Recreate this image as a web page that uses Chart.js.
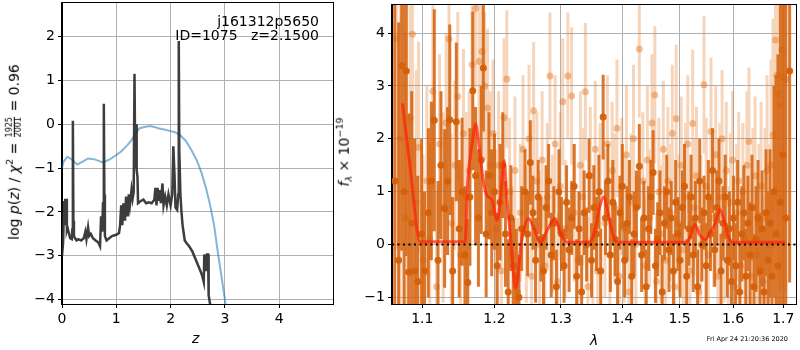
<!DOCTYPE html>
<html>
<head>
<meta charset="utf-8">
<script src="https://cdn.jsdelivr.net/npm/chart.js@4.4.1/dist/chart.umd.min.js"></script>
<style>
  body { margin: 0; background: #fff; font-family: "DejaVu Sans", sans-serif; }
  #wrap { position: relative; width: 800px; height: 350px; overflow: hidden; }
  canvas { position: absolute; top: 0; }
  .txt { position: absolute; white-space: nowrap; color: #000; font-size: 14px; line-height: 1; }
  .rot { transform: translate(-50%, -50%) rotate(-90deg); }
  .frac { display: inline-block; vertical-align: -2px; text-align: center; font-size: 8px; line-height: 1.05; margin: 0 1px; }
  .frac span { display: block; }
  .frac span.num { border-bottom: 1px solid #000; }
  sup { font-size: 9.5px; vertical-align: 6px; }
  sub { font-size: 9.5px; vertical-align: -3px; }
</style>
</head>
<body>
<div id="wrap">
  <canvas id="pz" width="340" height="350" style="left:0"></canvas>
  <canvas id="spec" width="460" height="350" style="left:340px"></canvas>

  <div class="txt rot" style="left:14px; top:152px;">log <i>p</i>(<i>z</i>) / <i>χ</i><sup>2</sup> = <span class="frac"><span class="num">1925</span><span>2001</span></span> = 0.96</div>
  <div class="txt" style="left:192px; top:331px; font-style:italic;">z</div>
  <div class="txt" style="right:481px; top:14px; text-align:right; line-height:14px;">j161312p5650<br>ID=1075&nbsp;&nbsp;&nbsp;z=2.1500</div>

  <div class="txt rot" style="left:344px; top:152px;"><i>f</i><sub><i>λ</i></sub> × 10<sup>−19</sup></div>
  <div class="txt" style="left:590px; top:333px; font-style:italic;">λ</div>
  <div class="txt" style="right:12px; top:336px; font-size:6.5px;">Fri Apr 24 21:20:36 2020</div>
</div>
<script>
// ---- p(z) panel data ----
const zTicks = [0, 1, 2, 3, 4];
const logpTicks = [-4, -3, -2, -1, 0, 1, 2];

// fit log p(z)
const zFit = [0.00, 0.02, 0.04, 0.05, 0.06, 0.07, 0.08, 0.09, 0.10, 0.12, 0.15, 0.18, 0.19, 0.20, 0.21, 0.22,
  0.24, 0.27, 0.30, 0.35, 0.40, 0.43, 0.45, 0.48, 0.50, 0.53, 0.57, 0.62, 0.67, 0.70, 0.72, 0.74, 0.755,
  0.77, 0.78, 0.79, 0.82, 0.87, 0.92, 1.00, 1.05, 1.07, 1.09, 1.11, 1.13, 1.16, 1.18, 1.21, 1.23, 1.25,
  1.28, 1.30, 1.32, 1.335, 1.345, 1.355, 1.365, 1.375, 1.39, 1.40, 1.45, 1.50, 1.55, 1.60, 1.65, 1.70,
  1.72, 1.74, 1.76, 1.78, 1.80, 1.82, 1.85, 1.87, 1.90, 1.93, 1.96, 2.00, 2.03, 2.05, 2.07, 2.09, 2.12,
  2.14, 2.15, 2.16, 2.18, 2.20, 2.22, 2.26, 2.30, 2.35, 2.40, 2.45, 2.50, 2.55, 2.58, 2.61, 2.62, 2.65,
  2.67, 2.69, 2.70, 2.72, 2.75];
const logpFit = [-3.0, -2.7, -1.75, -2.3, -1.7, -2.2, -1.7, -2.4, -2.35, -2.45, -2.6, -2.62, -2.4, 0.08, -2.2, -2.55,
  -2.6, -2.65, -2.62, -2.65, -2.6, -2.45, -2.62, -2.35, -2.55, -2.5, -2.6, -2.65, -2.7, -2.78, -2.1, -2.45, -1.8,
  0.47, -1.6, -2.55, -2.65, -2.6, -2.55, -2.52, -2.48, -2.3, -1.85, -2.3, -1.8, -2.2, -1.65, -2.1, -1.6, -1.85,
  -1.5, -1.7, -1.55, 1.15, -0.3, -1.0, 0.0, -1.05, -1.2, -1.8, -1.75, -1.72, -1.8, -1.78, -1.8, -1.72,
  -1.45, -1.85, -1.45, -1.75, -1.5, -1.8, -1.35, -1.85, -1.65, -1.85, -1.6, -1.85, -1.6, -0.5, -1.1, -1.9, -1.95,
  -1.6, 1.9, -0.6, -1.6, -2.0, -2.3, -2.65, -2.72, -2.8, -2.9, -3.05, -3.2, -3.35, -3.45, -3.6, -2.97, -3.35,
  -2.97, -2.97, -3.9, -4.05, -4.3];

// prior
const zPrior = [0, 0.03, 0.1, 0.2, 0.28, 0.38, 0.48, 0.6, 0.75, 0.88, 1.0, 1.09, 1.2, 1.28, 1.36, 1.43, 1.52,
  1.62, 1.70, 1.77, 1.88, 1.98, 2.08, 2.17, 2.28, 2.38, 2.48, 2.57, 2.65, 2.72, 2.80, 2.87, 2.94, 3.0, 3.05];
const logPrior = [-1.0, -0.85, -0.74, -0.82, -0.92, -0.85, -0.78, -0.8, -0.87, -0.8, -0.70, -0.62, -0.48, -0.36,
  -0.2, -0.09, -0.06, -0.04, -0.06, -0.09, -0.12, -0.15, -0.18, -0.24, -0.38, -0.58, -0.82, -1.11, -1.45, -1.80,
  -2.3, -2.93, -3.5, -4.0, -4.5];

// ---- spectrum panel data ----
const lamTicks = [1.1, 1.2, 1.3, 1.4, 1.5, 1.6, 1.7];
const fluxTicks = [-1, 0, 1, 2, 3, 4];

const darkLam = [1.064, 1.069, 1.073, 1.076, 1.079, 1.082, 1.086, 1.090, 1.094, 1.099, 1.103, 1.108, 1.112, 1.116,
  1.121, 1.125, 1.130, 1.134, 1.137, 1.141, 1.146, 1.150, 1.154, 1.158, 1.162, 1.165, 1.169, 1.173, 1.177, 1.181,
  1.184, 1.188, 1.192, 1.196, 1.200, 1.204, 1.208, 1.212, 1.216, 1.220, 1.224, 1.228, 1.232, 1.236, 1.240, 1.245,
  1.249, 1.253, 1.257, 1.261, 1.265, 1.269, 1.273, 1.277, 1.281, 1.285, 1.289, 1.293, 1.297, 1.301, 1.305, 1.309,
  1.313, 1.317, 1.321, 1.325, 1.329, 1.333, 1.337, 1.341, 1.345, 1.349, 1.353, 1.357, 1.361, 1.364, 1.368, 1.372,
  1.376, 1.380, 1.384, 1.388, 1.392, 1.396, 1.400, 1.404, 1.408, 1.412, 1.416, 1.420, 1.424, 1.429, 1.433, 1.437,
  1.441, 1.445, 1.449, 1.453, 1.457, 1.461, 1.465, 1.469, 1.473, 1.477, 1.481, 1.485, 1.489, 1.493, 1.497, 1.501,
  1.505, 1.509, 1.513, 1.517, 1.521, 1.525, 1.529, 1.533, 1.537, 1.541, 1.545, 1.549, 1.553, 1.557, 1.561, 1.565,
  1.569, 1.573, 1.577, 1.581, 1.585, 1.589, 1.593, 1.597, 1.601, 1.605, 1.609, 1.613, 1.617, 1.621, 1.625, 1.629,
  1.633, 1.637, 1.641, 1.645, 1.649, 1.653, 1.657, 1.661, 1.665, 1.669, 1.673, 1.677, 1.681, 1.685, 1.689, 1.694,
  1.699, 1.705, 1.713];
const darkFlux = [1.2, -0.3, 3.38, 1.0, 3.28, -0.52, 0.4, -0.5, -0.7, 0.2, -0.5, 0.6, 1.2, 2.35,
  -0.3, 1.5, 0.68, 1.2, 2.36, -0.5, 2.32, 0.3, 1.0, -0.2, -0.72, 0.9, 2.91, 1.3, 0.5, 1.6,
  3.34, 0.2, 1.3, 0.6, 1.0, -0.4, 0.8, 1.5, 0.2, -0.9, 0.5, -0.4, -0.6, -1.0, 0.3, 1.0,
  0.2, 1.55, 0.6, -0.3, 0.9, 0.1, -0.5, 0.7, 1.2, -0.2, 0.4, -0.8, 1.0, 0.2, -0.4, 0.8,
  -0.1, 0.5, 1.1, -0.6, 0.3, -0.9, 0.6, 0.0, 1.3, -0.3, 0.7, 0.2, 1.0, -0.5, 2.41, 0.5,
  1.2, -0.2, 0.8, 0.1, -0.7, 0.6, 1.1, -0.3, 0.4, 0.9, -0.6, 0.2, 0.7, 1.48, -0.2, 0.5,
  -0.8, 0.3, 0.9, 1.36, -0.4, 0.1, 0.6, -0.9, 0.4, 1.0, -0.1, 0.5, -0.5, 0.8, 0.2, -0.3,
  0.7, 1.1, -0.6, 0.3, 0.9, -0.2, 0.5, -0.8, 1.2, 0.0, 0.6, -0.4, 0.9, 0.2, 1.4, -0.1,
  0.7, 1.2, -0.5, 0.4, 0.9, -0.3, 0.3, -0.7, 0.5, -0.4, 0.8, -0.9, 0.2, 0.6, -0.6, 0.4,
  -0.2, 0.7, -0.8, 0.1, 0.5, -0.5, 0.3, -0.9, 0.6, -0.3, 0.4, -0.6, 1.0, 0.2, -0.4, 0.8,
  1.7, 0.5, 3.28];
const darkErr = [4.0, 4.5, 3.5, 4.0, 3.5, 3.0, 2.5, 2.5, 2.0, 1.8, 1.5, 1.6, 1.5, 2.1,
  1.5, 1.4, 1.5, 1.4, 1.8, 1.4, 1.5, 1.3, 1.4, 1.3, 1.2, 1.3, 1.5, 1.3, 1.3, 1.4,
  1.2, 1.2, 1.2, 1.2, 1.1, 1.0, 1.1, 1.0, 1.0, 1.0, 1.0, 0.9, 0.9, 0.8, 0.8, 0.8,
  0.8, 0.8, 0.7, 0.8, 0.7, 0.8, 0.7, 0.8, 0.7, 0.8, 0.7, 0.7, 0.8, 0.7, 0.7, 0.7,
  0.8, 0.7, 0.8, 0.7, 0.7, 0.7, 0.8, 0.7, 0.7, 0.7, 0.8, 0.7, 0.7, 0.8, 0.8, 0.7,
  0.7, 0.7, 0.8, 0.7, 0.7, 0.7, 0.8, 0.7, 0.7, 0.7, 0.7, 0.8, 0.7, 0.8, 0.7, 0.7,
  0.7, 0.8, 0.7, 0.8, 0.7, 0.7, 0.8, 0.7, 0.7, 0.7, 0.8, 0.7, 0.7, 0.8, 0.7, 0.7,
  0.7, 0.8, 0.7, 0.7, 0.8, 0.7, 0.7, 0.7, 0.8, 0.7, 0.7, 0.8, 0.7, 0.7, 0.8, 0.7,
  0.7, 0.8, 0.7, 0.7, 0.8, 0.7, 0.7, 0.8, 0.8, 0.8, 0.8, 0.9, 0.9, 0.9, 0.9, 0.9,
  1.0, 1.0, 1.0, 1.0, 1.1, 1.1, 1.1, 1.2, 1.2, 1.3, 1.4, 1.6, 2.0, 3.0, 4.0, 4.5,
  4.0, 5.0, 4.0];

const lightLam = [1.066, 1.071, 1.078, 1.084, 1.087, 1.092, 1.095, 1.101, 1.106, 1.110, 1.114, 1.119, 1.123, 1.128,
  1.132, 1.136, 1.139, 1.144, 1.148, 1.152, 1.156, 1.160, 1.164, 1.168, 1.173, 1.178, 1.182, 1.186, 1.190, 1.194,
  1.198, 1.202, 1.206, 1.210, 1.214, 1.218, 1.222, 1.226, 1.230, 1.234, 1.238, 1.242, 1.247, 1.251, 1.255, 1.258,
  1.263, 1.267, 1.271, 1.275, 1.279, 1.283, 1.287, 1.291, 1.295, 1.299, 1.303, 1.307, 1.311, 1.317, 1.321, 1.327,
  1.331, 1.335, 1.339, 1.343, 1.347, 1.351, 1.355, 1.359, 1.363, 1.371, 1.375, 1.379, 1.383, 1.387, 1.391, 1.395,
  1.399, 1.403, 1.407, 1.411, 1.415, 1.419, 1.423, 1.429, 1.435, 1.439, 1.443, 1.447, 1.451, 1.456, 1.459, 1.463,
  1.467, 1.471, 1.475, 1.479, 1.483, 1.487, 1.491, 1.494, 1.499, 1.503, 1.507, 1.511, 1.515, 1.519, 1.524, 1.527,
  1.531, 1.535, 1.539, 1.545, 1.549, 1.553, 1.558, 1.563, 1.567, 1.571, 1.575, 1.579, 1.583, 1.587, 1.591, 1.595,
  1.599, 1.603, 1.607, 1.611, 1.615, 1.619, 1.623, 1.627, 1.631, 1.635, 1.639, 1.643, 1.647, 1.651, 1.655, 1.659,
  1.663, 1.667, 1.671, 1.675, 1.679, 1.684, 1.687, 1.690, 1.694, 1.697, 1.700, 1.705];
const lightFlux = [3.9, 2.0, 0.5, 2.4, 3.98, 0.8, 1.84, -0.3, 1.2, 0.1, 2.9, -0.8, 1.9, 0.7,
  2.3, 3.89, 0.4, 1.5, 2.8, -0.2, 2.1, 0.9, 1.4, 3.4, 4.47, 3.46, 3.65, 3.0, 2.58, 1.5,
  2.1, 0.3, 1.5, -0.5, 2.4, 3.13, 1.0, -0.2, 1.4, -0.9, 0.6, 1.8, 0.2, 2.0, -0.6, 2.53,
  1.2, 0.0, 1.6, -0.4, 0.9, 3.19, 0.4, 1.9, -0.7, 1.1, 2.70, 0.3, 3.19, 2.81, 0.6, -0.3,
  1.5, 0.9, 2.89, -0.8, 1.3, 0.1, 1.8, -0.5, 1.0, 0.4, 1.9, -0.2, 1.4, 0.7, 2.2, -0.6,
  1.1, 0.3, 1.7, -0.9, 0.8, 2.0, 0.0, 3.70, 1.2, -0.4, 1.6, 0.5, 2.3, 2.83, -0.7, 1.0,
  0.2, 1.8, -0.3, 1.2, 0.6, 2.1, -0.8, 2.38, 0.4, 1.5, -0.1, 0.9, 1.9, -0.5, 2.29, 0.7,
  1.3, -0.9, 0.3, 3.02, 1.1, -0.2, 2.14, 0.5, 1.7, -0.6, 0.9, 2.0, 0.2, 1.4, -0.3, 0.8,
  1.6, -0.8, 0.6, 1.2, -0.4, 1.0, 0.1, 1.5, 1.95, -0.6, 0.7, 1.3, -0.2, 0.4, 1.1, -0.7,
  0.5, 1.4, 0.0, 1.5, 2.07, 3.87, 3.2, 2.85, 2.63, 3.68, 3.17, 3.12];
const lightErr = [4.0, 4.0, 3.5, 3.0, 2.5, 2.5, 2.0, 2.0, 1.8, 1.8, 1.8, 1.8, 1.7, 1.8,
  1.7, 1.6, 1.7, 1.6, 1.6, 1.7, 1.6, 1.6, 1.5, 1.6, 1.5, 1.5, 1.4, 1.4, 1.5, 1.4,
  1.4, 1.5, 1.4, 1.4, 1.5, 1.3, 1.4, 1.3, 1.4, 1.4, 1.3, 1.4, 1.3, 1.4, 1.3, 1.3,
  1.3, 1.4, 1.3, 1.3, 1.4, 1.2, 1.3, 1.3, 1.3, 1.4, 1.2, 1.3, 1.2, 1.3, 1.3, 1.3,
  1.4, 1.3, 1.3, 1.3, 1.3, 1.4, 1.3, 1.3, 1.3, 1.4, 1.3, 1.3, 1.3, 1.4, 1.3, 1.3,
  1.3, 1.4, 1.3, 1.3, 1.3, 1.4, 1.3, 1.3, 1.3, 1.3, 1.4, 1.3, 1.3, 1.3, 1.3, 1.4,
  1.3, 1.3, 1.3, 1.4, 1.3, 1.3, 1.3, 1.4, 1.3, 1.3, 1.3, 1.4, 1.3, 1.3, 1.4, 1.3,
  1.3, 1.3, 1.4, 1.3, 1.3, 1.3, 1.4, 1.3, 1.3, 1.3, 1.4, 1.3, 1.3, 1.3, 1.4, 1.3,
  1.3, 1.4, 1.3, 1.3, 1.4, 1.3, 1.4, 1.4, 1.4, 1.4, 1.5, 1.5, 1.5, 1.5, 1.6, 1.6,
  1.7, 1.8, 1.9, 2.0, 2.2, 3.0, 3.0, 3.5, 3.5, 3.5, 4.0, 4.0];

// model
const modelLam = [1.074, 1.084, 1.097, 1.158, 1.162, 1.168, 1.173, 1.178, 1.184, 1.189, 1.196, 1.204, 1.209,
  1.214, 1.218, 1.223, 1.231, 1.240, 1.250, 1.259, 1.268, 1.280, 1.291, 1.300, 1.310, 1.347, 1.355, 1.362,
  1.369, 1.376, 1.384, 1.391, 1.513, 1.521, 1.528, 1.536, 1.547, 1.557, 1.566, 1.575, 1.584, 1.591, 1.597, 1.703];
const modelFlux = [2.67, 1.46, 0.05, 0.05, 1.21, 1.9, 2.28, 1.84, 1.2, 0.93, 0.85, 0.46, 0.9,
  1.59, 0.9, 0.21, -0.83, 0.08, 0.49, 0.3, 0.04, 0.3, 0.49, 0.2, 0.04, 0.05, 0.3, 0.7,
  0.90, 0.6, 0.2, 0.04, 0.04, 0.2, 0.38, 0.2, 0.09, 0.24, 0.4, 0.66, 0.4, 0.15, 0.04, 0.04];

// ---- helpers ----
const tickFont = { family: "DejaVu Sans", size: 14 };
const minus = (v) => String(v).replace("-", "\u2212");

function pts(xs, ys) {
  return xs.map((x, i) => ({ x: x, y: ys[i] }));
}

// error bars as broken line segments
function errSegments(xs, ys, es) {
  const out = [];
  xs.forEach((x, i) => {
    out.push({ x: x, y: ys[i] - es[i] });
    out.push({ x: x, y: ys[i] + es[i] });
    out.push({ x: x, y: null });
  });
  return out;
}

function axis(min, max, ticks, size, extra) {
  return Object.assign({
    min: min,
    max: max,
    afterBuildTicks: (s) => { s.ticks = ticks.map((v) => ({ value: v })); },
    afterFit: (s) => {
      if (s.isHorizontal()) s.height = size; else s.width = size;
      s.paddingTop = 0; s.paddingBottom = 0; s.paddingLeft = 0; s.paddingRight = 0;
    },
    grid: { color: "#b0b0b0", lineWidth: 1, tickColor: "#000", tickLength: 4 },
    border: { color: "#000", width: 1 },
    ticks: { font: tickFont, color: "#000", padding: 3, maxRotation: 0, autoSkip: false, callback: (v) => minus(v) },
  }, extra);
}

// full black frame around the plot area
const frame = {
  id: "frame",
  afterDraw(chart) {
    const a = chart.chartArea, ctx = chart.ctx;
    ctx.save();
    ctx.strokeStyle = "#000";
    ctx.lineWidth = 1;
    ctx.strokeRect(Math.round(a.left) - 0.5, Math.round(a.top) + 0.5, Math.round(a.right - a.left) + 1, Math.round(a.bottom - a.top));
    ctx.restore();
  },
};

const base = {
  responsive: false,
  animation: false,
  devicePixelRatio: 1,
  events: [],
  plugins: { legend: { display: false }, tooltip: { enabled: false } },
};

// ---- p(z) chart ----
new Chart(document.getElementById("pz"), {
  type: "scatter",
  data: {
    datasets: [
      {
        data: pts(zFit, logpFit), showLine: true, borderColor: "rgba(45,45,45,0.92)", borderWidth: 2.5,
        pointRadius: 0, clip: 0, order: 0,
      },
      {
        data: pts(zPrior, logPrior), showLine: true, borderColor: "rgba(31,119,180,0.55)", borderWidth: 2,
        pointRadius: 0, clip: 0, order: 1,
      },
    ],
  },
  options: Object.assign({}, base, {
    layout: { padding: { top: 2, right: 7, left: 0, bottom: 0 } },
    scales: {
      x: axis(0, 4.99, zTicks, 46, { type: "linear" }),
      y: axis(-4.1, 2.79, logpTicks, 62, { type: "linear" }),
    },
  }),
  plugins: [frame],
});

// ---- spectrum chart ----
const lamMin = 1.0605, lamMax = 1.7262;
const specX = axis(lamMin, lamMax, lamTicks, 46, { type: "logarithmic" });
specX.ticks.callback = (v) => v.toFixed(1);

new Chart(document.getElementById("spec"), {
  type: "scatter",
  data: {
    datasets: [
      {
        data: [{ x: lamMin, y: 0 }, { x: lamMax, y: 0 }], showLine: true, borderColor: "#000",
        borderWidth: 2, borderDash: [2, 3.5], pointRadius: 0, clip: 0, order: 0,
      },
      {
        data: pts(modelLam, modelFlux), showLine: true, borderColor: "rgba(255,35,10,0.72)", borderWidth: 3,
        cubicInterpolationMode: "monotone", pointRadius: 0, clip: 0, order: 1,
      },
      {
        data: pts(darkLam, darkFlux), pointRadius: 3.5, pointBackgroundColor: "rgba(212,96,10,0.95)",
        pointBorderWidth: 0, clip: 0, order: 2,
      },
      {
        data: errSegments(darkLam, darkFlux, darkErr), showLine: true, spanGaps: false,
        borderColor: "rgba(212,96,10,0.85)", borderWidth: 3, borderCapStyle: "butt", pointRadius: 0, clip: 0, order: 3,
      },
      {
        data: pts(lightLam, lightFlux), pointRadius: 3.5, pointBackgroundColor: "rgba(226,120,40,0.45)",
        pointBorderWidth: 0, clip: 0, order: 4,
      },
      {
        data: errSegments(lightLam, lightFlux, lightErr), showLine: true, spanGaps: false,
        borderColor: "rgba(230,125,45,0.32)", borderWidth: 3, borderCapStyle: "butt", pointRadius: 0, clip: 0, order: 5,
      },
    ],
  },
  options: Object.assign({}, base, {
    layout: { padding: { top: 2, right: 3, left: 0, bottom: 0 } },
    scales: {
      x: specX,
      y: axis(-1.126, 4.55, fluxTicks, 52, { type: "linear" }),
    },
  }),
  plugins: [frame],
});
</script>
</body>
</html>
